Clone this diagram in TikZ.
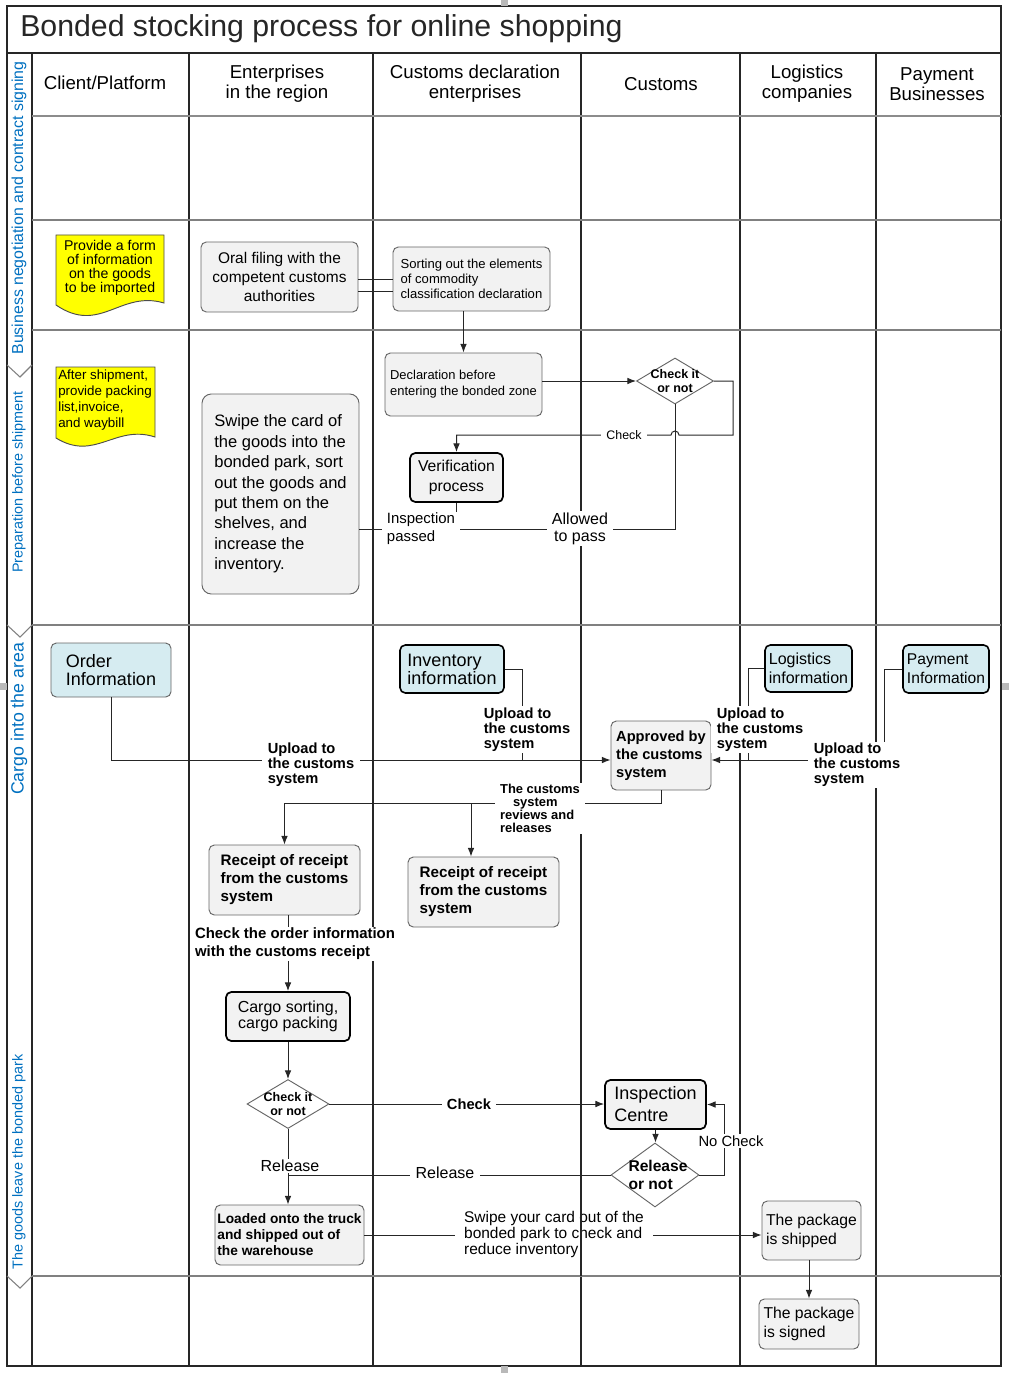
\documentclass[tikz,border=0pt]{standalone}
\usepackage{fontspec}
\setmainfont{Liberation Sans}
\usetikzlibrary{shapes.geometric,arrows.meta}
\definecolor{boxgray}{RGB}{242,242,242}
\definecolor{infoblue}{RGB}{214,236,241}
\definecolor{phaseblue}{RGB}{0,112,192}
\definecolor{docyellow}{RGB}{255,255,0}
\newcommand{\fsz}[2]{\fontsize{#1}{#2}\selectfont}
\begin{document}
\begin{tikzpicture}[x=0.75pt,y=-0.75pt,>={Latex[length=6.5pt,width=5pt]},
    lane/.style={black!85,line width=1.1pt},
    rowline/.style={black!50,line width=0.8pt},
    flow/.style={black!85,line width=0.75pt},
    arr/.style={flow,->},
    box/.style={draw=black!60,fill=boxgray,rounded corners=4pt,align=left,inner sep=0pt,line width=0.7pt},
    boldbox/.style={box,draw=black,line width=1.3pt},
    info/.style={box,fill=infoblue},
    boldinfo/.style={info,draw=black,line width=1.2pt},
    dia/.style={diamond,draw=black!60,fill=white,line width=0.7pt,inner sep=0pt},
    diatxt/.style={align=center,inner sep=0pt,font=\fsz{9.4}{10.5}\bfseries},
    lbl/.style={fill=white,inner xsep=4pt,inner ysep=1pt,align=left},
    uplbl/.style={lbl,font=\fsz{11}{11.25}\bfseries},
    hdr/.style={align=center,font=\fsz{14}{15}},
    phase/.style={rotate=90,text=phaseblue},
    wh/.style 2 args={minimum width=#1*0.75pt,minimum height=#2*0.75pt}]
  \useasboundingbox (0,0) rectangle (1009,1373);
  % frame, lanes and rows
  \draw[lane] (7,6) rectangle (1001,1366);
  \draw[black!85,line width=1.6pt] (7,53) -- (1001,53);
  \foreach \x in {32,189,373,581,740,876} \draw[lane] (\x,53) -- (\x,1366);
  \draw[black!45,line width=1.4pt] (32,116) -- (1001,116);
  \foreach \y in {220,330,625,1276} \draw[rowline] (32,\y) -- (1001,\y);
  \foreach \y in {365,625,1276} \draw[rowline] (7,\y) -- (20,\y+12) -- (32,\y);%phase chevrons
  \foreach \p in {(504,3),(3,686),(1005,686),(504,1369)} \fill[gray!55] \p +(-3.5,-3.5) rectangle +(3.5,3.5);
  % title and headers
  \node[anchor=west,inner sep=0pt,text=black!85,font=\fsz{22.7}{27}] (title) at (20,29) {Bonded stocking process for online shopping};
  \node[hdr] (hclient) at (105,83) {Client/Platform};
  \node[hdr] (hent) at (277,84) {Enterprises\\in the region};
  \node[hdr] (hdecl) at (475,84) {Customs declaration\\enterprises};
  \node[hdr] (hcus) at (661,84) {Customs};
  \node[hdr] (hlog) at (807,84) {Logistics\\companies};
  \node[hdr] (hpay) at (937,84) {Payment\\Businesses};
  % phases
  \node[phase,font=\fsz{11.9}{14}] (phneg) at (19,208) {Business negotiation and contract signing};
  \node[phase,font=\fsz{10.8}{13}] (phprep) at (19,482) {Preparation before shipment};
  \node[phase,font=\fsz{13.3}{16}] (phin) at (19,719) {Cargo into the area};
  \node[phase,font=\fsz{10.8}{13}] (phout) at (19,1162) {The goods leave the bonded park};
  % documents
  \filldraw[draw=black!70,fill=docyellow,line width=0.7pt] (56,235) -- (164,235) -- (164,303) .. controls (120,290) and (100,335) .. (56,305) -- cycle;
  \node[align=center,font=\fsz{10.6}{10.5}] (docform) at (110,268) {Provide a form\\of information\\on the goods\\to be imported};
  \filldraw[draw=black!70,fill=docyellow,line width=0.7pt] (56,367) -- (155,367) -- (155,437) .. controls (115,424) and (95,462) .. (56,438) -- cycle;
  \node[align=left,font=\fsz{10}{11.8}] (docship) at (105,400) {After shipment,\\provide packing\\list,invoice,\\and waybill};
  % process boxes
  \node[box,wh={157}{70},align=center,font=\fsz{11.6}{14.6}] (oral) at (279.5,277) {Oral filing with the\\competent customs\\authorities};
  \node[box,wh={157}{64},font=\fsz{9.8}{11.25}] (sortel) at (471.5,279) {Sorting out the elements\\of commodity\\classification declaration};
  \node[box,wh={157}{63},font=\fsz{9.7}{12}] (declbefore) at (463.5,384.5) {Declaration before\\entering the bonded zone};
  \node[dia,wh={77}{46}] (chkA) at (675,381) {};
  \node[diatxt] (chkAtxt) at (chkA) {Check it\\or not};
  \node[boldbox,wh={93}{49},align=center,font=\fsz{11.8}{15}] (verif) at (456.5,477.5) {Verification\\process};
  \node[box,wh={157}{200},rounded corners=7pt,font=\fsz{12.4}{15.3}] (swipein) at (280.5,494) {Swipe the card of\\the goods into the\\bonded park, sort\\out the goods and\\put them on the\\shelves, and\\increase the\\inventory.};
  \node[info,wh={120}{54},font=\fsz{13.5}{13.5}] (orderinfo) at (111,670) {Order\\Information};
  \node[boldinfo,wh={104}{48},font=\fsz{13.5}{13.5}] (invinfo) at (452,669) {Inventory\\information};
  \node[boldinfo,wh={87}{47},font=\fsz{12}{14.25}] (loginfo) at (808.5,668.5) {Logistics\\information};
  \node[boldinfo,wh={86}{48},font=\fsz{11.7}{14.25}] (payinfo) at (946,669) {Payment\\Information};
  \node[box,wh={100}{69},font=\fsz{11}{13.5}\bfseries] (approved) at (661,755.5) {Approved by\\the customs\\system};
  \node[box,wh={151}{70},font=\fsz{11.4}{13.5}\bfseries] (rcptA) at (284.5,880) {Receipt of receipt\\from the customs\\system};
  \node[box,wh={151}{70},font=\fsz{11.4}{13.5}\bfseries] (rcptB) at (483.5,892) {Receipt of receipt\\from the customs\\system};
  \node[boldbox,wh={124}{49},align=center,font=\fsz{12}{12}] (cargo) at (288,1016.5) {Cargo sorting,\\cargo packing};
  \node[dia,wh={82}{49}] (chkB) at (288,1104) {};
  \node[diatxt] (chkBtxt) at (chkB) {Check it\\or not};
  \node[boldbox,wh={101}{49},font=\fsz{13.5}{16.5}] (inspect) at (655.5,1104.5) {Inspection\\Centre};
  \node[dia,wh={88}{64}] (relq) at (655,1175) {};
  \node[diatxt,align=left,font=\fsz{11.7}{13.5}\bfseries] (relqtxt) at (658,1175) {Release\\or not};
  \node[box,wh={149}{60},font=\fsz{10.3}{12}\bfseries] (loaded) at (289.5,1235) {Loaded onto the truck\\and shipped out of\\the warehouse};
  \node[box,wh={99}{59},font=\fsz{11.8}{14.25}] (shipped) at (811.5,1230.5) {The package\\is shipped};
  \node[box,wh={100}{50},font=\fsz{11.8}{14.25}] (signed) at (809,1324) {The package\\is signed};
  % bend points
  \coordinate (dblA) at (0,279);
  \coordinate (dblB) at (0,291);
  \coordinate (chkY) at (733,435);
  \coordinate (passY) at (0,529);
  \coordinate (upY) at (0,760);
  \coordinate (jInv) at (522,760);
  \coordinate (jLog) at (748,760);
  \coordinate (jPay) at (884,760);
  \coordinate (jRev) at (471,803);
  \coordinate (noX) at (724,0);
  % connectors
  \draw[flow] (oral.east |- dblA) -- (sortel.west |- dblA);
  \draw[flow] (oral.east |- dblB) -- (sortel.west |- dblB);
  \draw[arr] (declbefore.north |- sortel.south) -- (declbefore.north);
  \draw[arr] (declbefore.east |- chkA.west) -- (chkA.west);
  \draw[arr] (chkA.east) -| (chkY) -- ([xshift=3pt]chkA.south |- chkY) arc[start angle=0,end angle=180,radius=3pt] -- (verif.north |- chkY) -- (verif.north);
  \draw[flow] (chkA.south) |- (swipein.east |- passY);
  \draw[flow] (verif.south) -- (verif.south |- passY);
  \draw[arr] (orderinfo.south) |- (approved.west |- upY);
  \draw[flow] (invinfo.east) -| (jInv);
  \draw[flow] (loginfo.west) -| (jLog);
  \draw[arr] (payinfo.west) -| (jPay) -- (approved.east |- upY);
  \draw[arr] (approved.south) |- (rcptA.north |- jRev) -- (rcptA.north);
  \draw[arr] (jRev) -- (jRev |- rcptB.north);
  \draw[arr] (cargo.north |- rcptA.south) -- (cargo.north);
  \draw[arr] (cargo.south) -- (chkB.north);
  \draw[arr] (chkB.east) -- (chkB.east -| inspect.west);
  \draw[arr] (inspect.south) -- (inspect.south |- relq.north);
  \draw[arr] (relq.east) -| (noX |- inspect.east) -- (inspect.east);
  \draw[arr] (relq.west) -| (chkB.south |- loaded.north);
  \draw[flow] (chkB.south) -- (chkB.south |- relq.west);
  \draw[arr] (loaded.east) -- (loaded.east -| shipped.west);
  \draw[arr] (signed.north |- shipped.south) -- (signed.north);
  % connector labels
  \node[uplbl] (upA) at (311,765) {Upload to\\the customs\\system};
  \node[uplbl] (upB) at (527,729.5) {Upload to\\the customs\\system};
  \node[uplbl] (upC) at (760,729.5) {Upload to\\the customs\\system};
  \node[uplbl] (upD) at (857,765) {Upload to\\the customs\\system};
  \node[lbl,font=\fsz{9.7}{9.75}\bfseries] (rev) at (540,808.5) {The customs\\\hspace*{1em}system\\reviews and\\releases};
  \node[lbl,font=\fsz{11.2}{13.5}\bfseries] (chkord) at (295,944) {Check the order information\\with the customs receipt};
  \node[lbl,font=\fsz{9.3}{11}] (chkAlbl) at (624,435) {Check};
  \node[lbl,font=\fsz{11.2}{13.5}] (insp) at (421,529) {Inspection\\passed};
  \node[lbl,align=center,font=\fsz{12}{12.75}] (allow) at (580,528.5) {Allowed\\to pass};
  \node[lbl,font=\fsz{11}{13}\bfseries] (chkBlbl) at (469,1104) {Check};
  \node[lbl,font=\fsz{12}{14}] (relA) at (290,1166) {Release};
  \node[lbl,font=\fsz{12}{14}] (relB) at (445,1173) {Release};
  \node[lbl,font=\fsz{11.1}{13}] (nochk) at (731,1141) {No Check};
  \node[lbl,inner xsep=7pt,font=\fsz{11.6}{12}] (swipeout) at (554,1234) {Swipe your card out of the\\bonded park to check and\\reduce inventory};
  \draw[lane] (581,1200) -- (581,1276);%lane seen through the label
\end{tikzpicture}
\end{document}
